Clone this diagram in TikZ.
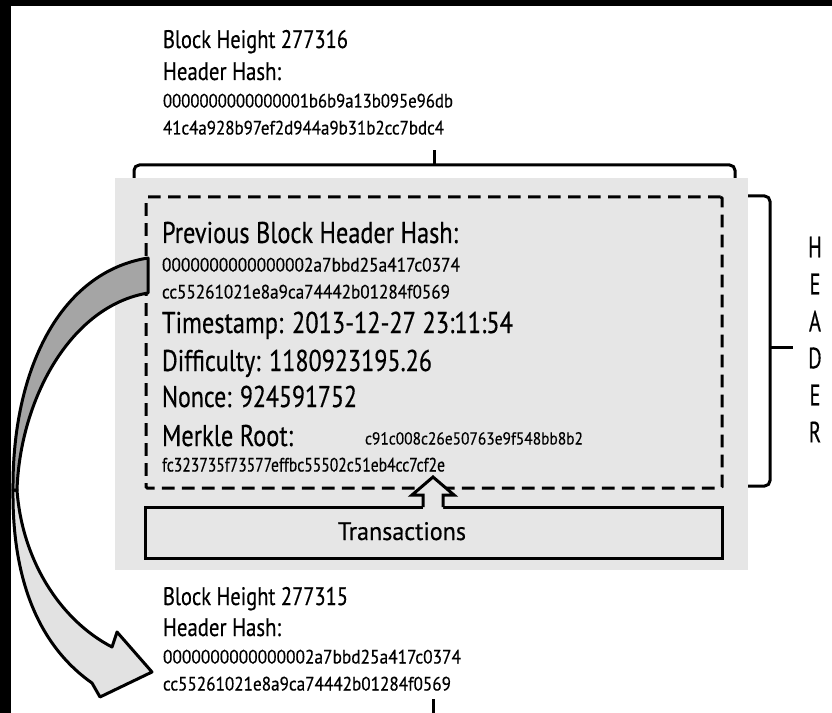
\documentclass[tikz,border=0pt]{standalone}
\usepackage{fontspec}
\setmainfont{PT Sans}[FakeBold=0.5]
\usepackage{graphicx}
\newlength\pxu
\setlength\pxu{0.75pt}
\newcommand\fitw[2]{\resizebox{#1\pxu}{\height}{#2}}
\newcommand\fbig{\fontsize{22.5pt}{26pt}\selectfont}
\newcommand\fmed{\fontsize{19pt}{22pt}\selectfont}
\newcommand\fsml{\fontsize{14.5pt}{17pt}\selectfont}
\newcommand\ftny{\fontsize{13pt}{15pt}\selectfont}
\newcommand\fhdr{\fontsize{22pt}{25pt}\selectfont}
\definecolor{bggray}{RGB}{230,230,230}
\definecolor{ribdark}{RGB}{165,165,165}
\definecolor{riblight}{RGB}{226,226,226}
\tikzset{
  txt/.style={anchor=base west, inner sep=0pt, outer sep=0pt},
  letter/.style={anchor=center, inner sep=0pt, font=\fhdr},
  heavy/.style={line width=2.25pt},
  brk/.style={line width=2.25pt, rounded corners=4pt},
  hdrbox/.style={draw, line width=2.25pt, dash pattern=on 9.5pt off 5.5pt, rounded corners=1pt, inner sep=0pt},
  txbox/.style={draw, line width=2.25pt, inner sep=0pt},
  ribbon/.style={line width=2.25pt, line join=round}
}
\begin{document}
\begin{tikzpicture}[x=0.75pt,y=-0.75pt]
\useasboundingbox (0,0) rectangle (832,713);
\fill[white] (0,0) rectangle (832,713);
\fill[black] (0,0) rectangle (832,6);
\fill[black] (0,0) rectangle (11,713);

% top block label
\node[txt, font=\fmed] (bh1) at (163,48) {\fitw{185}{Block Height 277316}};
\node[txt, font=\fmed] (hh1) at (163,80) {\fitw{118}{Header Hash:}};
\node[txt, font=\fsml] (h1a) at (163,107.5) {\fitw{290}{0000000000000001b6b9a13b095e96db}};
\node[txt, font=\fsml] (h1b) at (163,134.5) {\fitw{281}{41c4a928b97ef2d944a9b31b2cc7bdc4}};

% top bracket
\coordinate (tbl) at (134,186);
\coordinate (tbr) at (735,186);
\coordinate (tbm) at (434,165);
\coordinate (tbt) at (434,150);
\draw[brk] (tbl) -- (134,165) -- (735,165) -- (tbr);
\draw[heavy] (tbm) -- (tbt);

% gray block
\fill[bggray] (115,178) rectangle (748,570);

% header dashed box
\node[hdrbox, minimum width=432pt, minimum height=218.25pt] (hdr) at (434,342.5) {};

% header fields
\node[txt, font=\fbig] (prev) at (162,243) {\fitw{296}{Previous Block Header Hash:}};
\node[txt, font=\fsml] (ph1) at (162,271.5) {\fitw{298}{0000000000000002a7bbd25a417c0374}};
\node[txt, font=\fsml] (ph2) at (162,298.5) {\fitw{288}{cc55261021e8a9ca74442b01284f0569}};
\node[txt, font=\fbig] (ts) at (162,333) {\fitw{351}{Timestamp: 2013-12-27 23:11:54}};
\node[txt, font=\fbig] (diff) at (162,371) {\fitw{270}{Difficulty: 1180923195.26}};
\node[txt, font=\fbig] (nonce) at (162,407) {\fitw{195}{Nonce: 924591752}};
\node[txt, font=\fbig] (mr) at (162,446) {\fitw{131}{Merkle Root:}};
\node[txt, font=\ftny] (mr1) at (365,444.5) {\fitw{218}{c91c008c26e50763e9f548bb8b2}};
\node[txt, font=\fsml] (mr2) at (162,471.5) {\fitw{283}{fc323735f73577effbc55502c51eb4cc7cf2e}};

% transactions box
\node[txbox, minimum width=432.75pt, minimum height=38.25pt] (txbox) at (433.5,532.5) {};
\node[txt, font=\fmed] (tx) at (338,540) {\fitw{128}{Transactions}};

% up arrow from transactions to header
\fill[bggray] (423,509.5) -- (423,495) -- (412,495) -- (433,477) -- (454,495) -- (443,495) -- (443,509.5) -- cycle;
\draw[heavy, line join=miter] (423,507) -- (423,495) -- (412,495) -- (433,477) -- (454,495) -- (443,495) -- (443,507);

% HEADER bracket
\coordinate (hbt) at (748,196);
\coordinate (hbb) at (748,486);
\coordinate (hbm) at (770,347);
\coordinate (hbe) at (793,347);
\draw[brk] (hbt) -- (770,196) -- (770,486) -- (hbb);
\draw[heavy] (hbm) -- (hbe);
\node[letter] (lH) at (815,247) {\scalebox{0.7}[1]{H}};
\node[letter] (lE1) at (815,284) {\scalebox{0.7}[1]{E}};
\node[letter] (lA) at (815,321) {\scalebox{0.7}[1]{A}};
\node[letter] (lD) at (815,358) {\scalebox{0.7}[1]{D}};
\node[letter] (lE2) at (815,395) {\scalebox{0.7}[1]{E}};
\node[letter] (lR) at (815,432) {\scalebox{0.7}[1]{R}};

% curved ribbon arrow: previous hash -> block 277315
\coordinate (ra) at (148,258);
\coordinate (rb) at (148,293);
\coordinate (rm1) at (13,490);
\coordinate (rm2) at (17,490);
\coordinate (rj1) at (112,647);
\coordinate (rc1) at (117,632);
\coordinate (rtip) at (152,672);
\coordinate (rc2) at (100,697);
\coordinate (rj2) at (92,683);
\filldraw[ribbon, fill=riblight] (rm1) .. controls (12,590) and (45,650) .. (rj2) -- (rc2) -- (rtip) -- (rc1) -- (rj1) .. controls (60,620) and (22,560) .. (rm2) -- cycle;
\filldraw[ribbon, fill=ribdark] (ra) .. controls (60,272) and (12,370) .. (rm1) -- (rm2) .. controls (20,400) and (70,306) .. (rb) -- cycle;

% bottom block label
\node[txt, font=\fmed] (bh2) at (163,605) {\fitw{185}{Block Height 277315}};
\node[txt, font=\fmed] (hh2) at (163,636) {\fitw{118}{Header Hash:}};
\node[txt, font=\fsml] (h2a) at (163,663.5) {\fitw{298}{0000000000000002a7bbd25a417c0374}};
\node[txt, font=\fsml] (h2b) at (163,690.5) {\fitw{288}{cc55261021e8a9ca74442b01284f0569}};

% bottom bracket tick
\coordinate (bt1) at (433,699);
\coordinate (bt2) at (433,713);
\draw[heavy] (bt1) -- (bt2);
\end{tikzpicture}
\end{document}
